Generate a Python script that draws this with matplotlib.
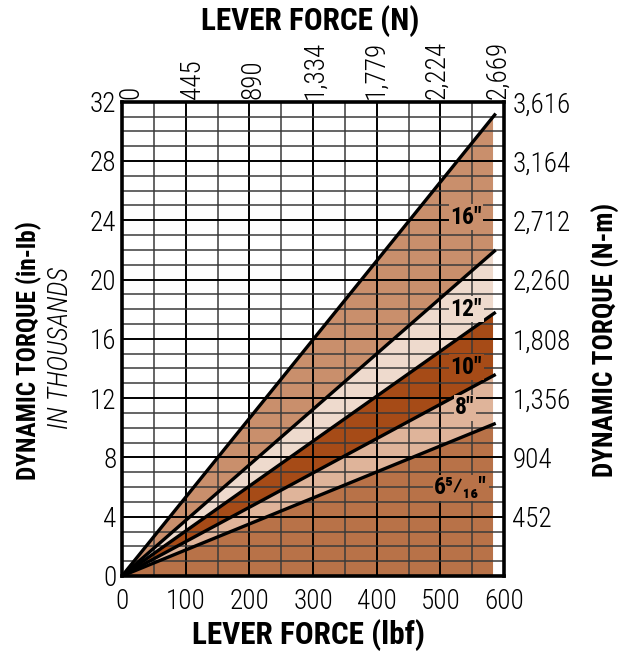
import numpy as np
import matplotlib.pyplot as plt

# lever lengths and the torque (thousands of in-lb) each line reaches at its end
sizes = ['16"', '12"', '10"', '8"', '6⁵⁄₁₆"']
torque_end = [31.2, 22.0, 17.8, 13.6, 10.3]
force_end = 587      # lbf, where the lines stop
fill_end = 582       # lbf, where the shading stops
band_colors = ['#c98f6c', '#eedacd', '#a64b17', '#dfb49a', '#b87248']
label_force = [540, 541, 541, 539, 532]
label_torque = [24.2, 18.0, 14.1, 11.35, 5.95]

lbf_ticks = [0, 100, 200, 300, 400, 500, 600]
newton_ticks = [0, 445, 890, 1334, 1779, 2224, 2669]
newton_labels = ['0', '445', '890', '1,334', '1,779', '2,224', '2,669']
inlb_ticks = [0, 4, 8, 12, 16, 20, 24, 28, 32]
nm_ticks = [4, 8, 12, 16, 20, 24, 28, 32]
nm_labels = ['452', '904', '1,356', '1,808', '2,260', '2,712', '3,164', '3,616']

fam = ['Roboto Condensed', 'DejaVu Sans']
plt.rcParams['font.family'] = fam

fig = plt.figure(figsize=(6.3, 6.52), dpi=100)
ax = fig.add_axes([0.1937, 0.1166, 0.6063, 0.7274])
ax.set_xlim(0, 600)
ax.set_ylim(0, 32)

# shaded bands between successive lines
xf = np.array([0, fill_end])
for i, c in enumerate(band_colors):
    top = np.array([0, torque_end[i] * fill_end / force_end])
    if i + 1 < len(torque_end):
        bot = np.array([0, torque_end[i + 1] * fill_end / force_end])
    else:
        bot = np.zeros(2)
    ax.fill_between(xf, bot, top, color=c, lw=0, zorder=1)

# grid on top of the shading
for x in np.arange(50, 600, 50):
    major = x % 100 == 0
    ax.axvline(x, color='black' if major else '#3a3a3a',
               lw=1.4 if major else 1.1, zorder=2)
for y in np.arange(1, 32, 1):
    major = y % 4 == 0
    ax.axhline(y, color='black' if major else '#3a3a3a',
               lw=1.4 if major else 1.1, zorder=2)

for v in torque_end:
    ax.plot([0, force_end], [0, v], color='black', lw=2.4,
            solid_capstyle='butt', zorder=3)

for s, xl, yl, c in zip(sizes, label_force, label_torque, band_colors):
    ax.text(xl, yl, s, ha='center', va='center', fontsize=17,
            fontweight='bold', family=fam, zorder=4,
            bbox=dict(facecolor=c, edgecolor='none', pad=1.0))

for sp in ax.spines.values():
    sp.set_linewidth(2.6)
    sp.set_zorder(5)

ax.set_xticks(lbf_ticks)
ax.set_yticks(inlb_ticks)
ax.tick_params(length=0, labelsize=19.5)
ax.tick_params(axis='x', pad=9)
ax.tick_params(axis='y', pad=4)
for t in ax.get_xticklabels() + ax.get_yticklabels():
    t.set_fontweight('light')

ax_top = ax.twiny()
ax_top.set_xlim(-65, 2711)
ax_top.set_xticks(newton_ticks)
ax_top.set_xticklabels(newton_labels, rotation=90, fontweight='light')
ax_top.tick_params(length=0, labelsize=19.5, pad=2)

ax_r = ax.twinx()
ax_r.set_ylim(ax.get_ylim())
ax_r.set_yticks(nm_ticks)
ax_r.set_yticklabels(nm_labels, fontweight='light')
ax_r.tick_params(length=0, labelsize=19.5, pad=6)
for a in (ax_top, ax_r):
    for sp in a.spines.values():
        sp.set_visible(False)

fig.text(0.489, 0.026, 'LEVER FORCE (lbf)', ha='center', va='center',
         fontsize=22.5, fontweight='bold')
fig.text(0.492, 0.968, 'LEVER FORCE (N)', ha='center', va='center',
         fontsize=22.5, fontweight='bold')
fig.text(0.046, 0.463, 'DYNAMIC TORQUE (in-lb)', ha='center', va='center',
         rotation=90, fontsize=18.2, fontweight='bold')
fig.text(0.096, 0.467, 'IN THOUSANDS', ha='center', va='center',
         rotation=90, fontsize=19.5, fontstyle='italic', fontweight='light')
fig.text(0.962, 0.478, 'DYNAMIC TORQUE (N-m)', ha='center', va='center',
         rotation=90, fontsize=19.5, fontweight='bold')

fig.savefig('out.png', dpi=100)
